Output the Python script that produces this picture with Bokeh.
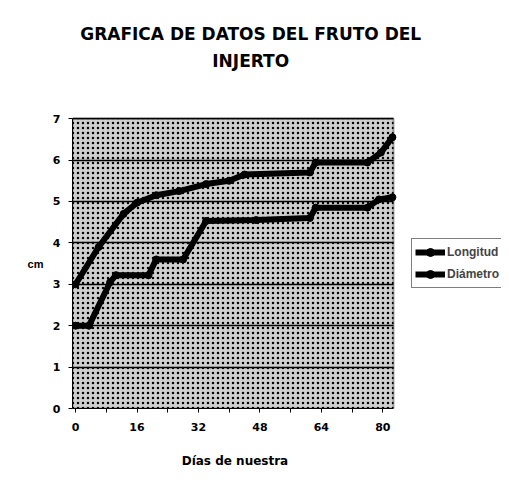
from bokeh.plotting import figure
from bokeh.models import (Range1d, FixedTicker, Legend, LegendItem, BoxAnnotation, Label,
                          LinearAxis)
from bokeh.embed import file_html
from bokeh.resources import INLINE

# ---- data ----
dias_longitud = [0, 6, 12.5, 16, 21, 27, 34, 40, 44, 61, 62.5, 76, 79.5, 82.5]
longitud = [3.0, 3.9, 4.7, 4.97, 5.15, 5.25, 5.42, 5.5, 5.65, 5.7, 5.94, 5.94, 6.18, 6.55]
dias_diametro = [0, 3.5, 9, 10.5, 19, 21, 28, 34, 47, 61, 62.5, 76, 79, 82.5]
diametro = [2.0, 2.0, 3.05, 3.22, 3.22, 3.6, 3.6, 4.53, 4.55, 4.6, 4.85, 4.85, 5.05, 5.1]
x_ticks = [0, 16, 32, 48, 64, 80]
x_minor = [8, 24, 40, 56, 72]
y_ticks = [0, 1, 2, 3, 4, 5, 6, 7]
title_lines = ["GRAFICA DE DATOS DEL FRUTO DEL", "INJERTO"]
x_title = "Días de nuestra"
y_title = "cm"

FONT = "Liberation Sans"
WIDE = "DejaVu Sans"

# plot box limits (data units) and the extra room used for title / legend
X0, X1 = -0.8, 82.8
Y0, Y1 = 0, 7
X_ROOM = 110.9
Y_ROOM = 9.853
X_MID = 41.5     # where the x-axis title is centred
Y_MID = 3.5      # where the y-axis title is centred

p = figure(width=501, height=476, output_backend="svg", toolbar_location=None,
           x_range=Range1d(X0, X_ROOM), y_range=Range1d(Y0, Y_ROOM),
           min_border_left=72, min_border_right=0, min_border_top=0, min_border_bottom=68)

p.background_fill_color = "white"
p.border_fill_color = "white"
p.outline_line_color = None

box = BoxAnnotation(left=X0, right=X1, bottom=Y0, top=Y1,
                    fill_color="#cfcfcf", fill_alpha=1.0,
                    hatch_pattern="dot", hatch_color="black", hatch_scale=5, hatch_weight=1.2,
                    line_color=None, level="image")
p.add_layout(box)
frame_box = BoxAnnotation(left=X0, right=X1, bottom=Y0, top=Y1,
                          fill_alpha=0, line_color="black", line_width=2, level="overlay")
p.add_layout(frame_box)

# title (two lines)
for txt, yy in zip(title_lines, [9.055, 8.40]):
    p.add_layout(Label(x=45.6, y=yy, text=txt, text_align="center", text_baseline="middle",
                       text_font=WIDE, text_font_size="17px", text_font_style="bold",
                       text_color="black"))

# grid
p.xgrid.visible = False
p.ygrid.ticker = FixedTicker(ticks=y_ticks)
p.ygrid.bounds = (Y0, Y1)
p.ygrid.cross_bounds = (X0, X1)
p.ygrid.grid_line_color = "black"
p.ygrid.grid_line_width = 1.5

# axes
p.xaxis.ticker = FixedTicker(ticks=x_ticks, minor_ticks=x_minor)
p.yaxis.ticker = FixedTicker(ticks=y_ticks)
p.xaxis.bounds = (X0, X1)
p.yaxis.bounds = (Y0, Y1)
for ax in (p.xaxis[0], p.yaxis[0]):
    ax.axis_line_color = "black"
    ax.axis_line_width = 1
    ax.major_tick_line_color = "black"
    ax.minor_tick_line_color = "black"
    ax.major_tick_in = 0
    ax.major_tick_out = 4
    ax.minor_tick_in = 0
    ax.minor_tick_out = 4
    ax.major_label_text_font = WIDE
    ax.major_label_text_font_size = "11px"
    ax.major_label_text_font_style = "bold"
    ax.major_label_text_color = "black"
p.yaxis.minor_tick_line_color = None
p.xaxis.major_label_standoff = 10
p.yaxis.major_label_standoff = 8

# axis titles, drawn as single-label axes so they sit centred on the plot box
xt = LinearAxis(ticker=FixedTicker(ticks=[X_MID]), major_label_overrides={X_MID: x_title},
                axis_line_color=None, major_tick_line_color=None, minor_tick_line_color=None,
                major_label_standoff=14, major_label_text_font=WIDE,
                major_label_text_font_size="12px", major_label_text_font_style="bold",
                major_label_text_color="black")
p.add_layout(xt, "below")
yt = LinearAxis(ticker=FixedTicker(ticks=[Y_MID]), major_label_overrides={Y_MID: y_title},
                axis_line_color=None, major_tick_line_color=None, minor_tick_line_color=None,
                major_label_standoff=0, major_label_text_font=FONT,
                major_label_text_font_size="11px", major_label_text_font_style="bold",
                major_label_text_color="black")
p.add_layout(yt, "left")

# series
l1 = p.line(dias_longitud, longitud, line_color="black", line_width=6)
m1 = p.scatter(dias_longitud, longitud, marker="circle", size=7, color="black")
l2 = p.line(dias_diametro, diametro, line_color="black", line_width=6)
m2 = p.scatter(dias_diametro, diametro, marker="circle", size=7, color="black")

legend = Legend(items=[LegendItem(label="Longitud", renderers=[l1, m1]),
                       LegendItem(label="Diámetro", renderers=[l2, m2])],
                location=(339, 120), orientation="vertical",
                border_line_color="black", border_line_width=1,
                background_fill_color="white", background_fill_alpha=1,
                label_text_font=FONT, label_text_font_size="12px",
                label_text_font_style="bold",
                glyph_width=30, glyph_height=20, label_standoff=2,
                padding=3, spacing=2, margin=0)
p.add_layout(legend)

open("out.html", "w").write(file_html(p, INLINE))
